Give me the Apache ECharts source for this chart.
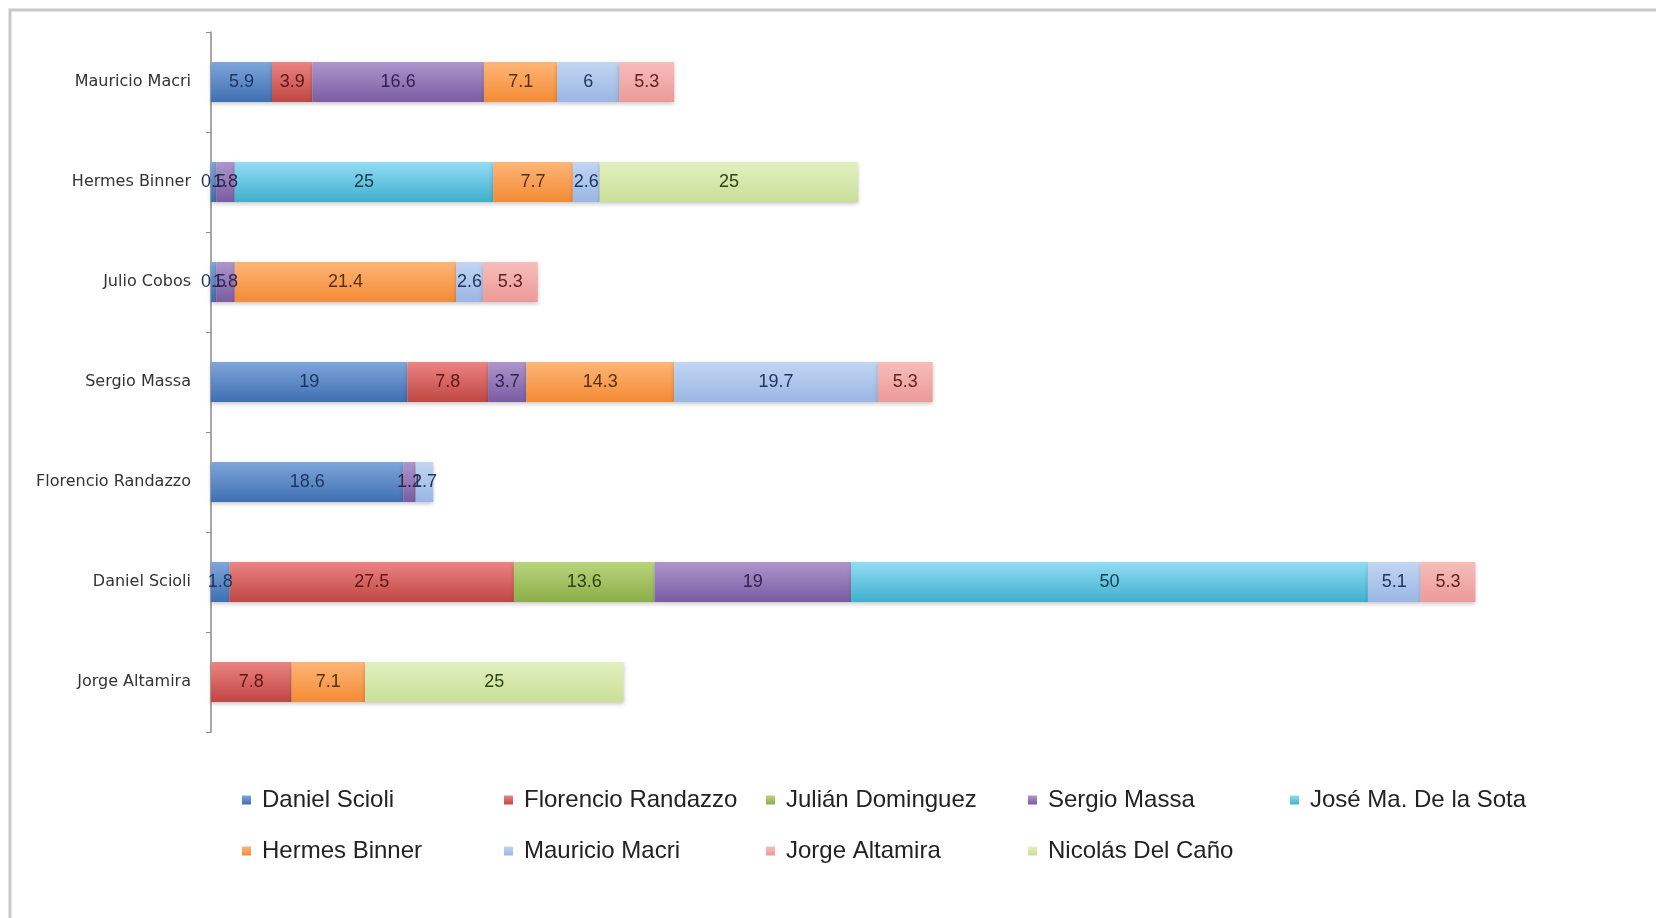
<!DOCTYPE html>
<html>
<head>
<meta charset="utf-8">
<title>Candidatos</title>
<script src="https://cdn.jsdelivr.net/npm/echarts@6/dist/echarts.min.js"></script>
<style>
    html, body { margin: 0; padding: 0; background: #fff; }
    #main { width: 1656px; height: 918px; }
</style>
</head>
<body>
<div id="main"></div>
<script>
// categorias, de arriba hacia abajo
var categories = ['Mauricio Macri', 'Hermes Binner', 'Julio Cobos', 'Sergio Massa',
    'Florencio Randazzo', 'Daniel Scioli', 'Jorge Altamira'];

var seriesNames = ['Daniel Scioli', 'Florencio Randazzo', 'Julián Dominguez', 'Sergio Massa',
    'José Ma. De la Sota', 'Hermes Binner', 'Mauricio Macri', 'Jorge Altamira', 'Nicolás Del Caño'];

var danielScioli      = [5.9, 0.5, 0.5, 19, 18.6, 1.8, null];
var florencioRandazzo = [3.9, null, null, 7.8, null, 27.5, 7.8];
var julianDominguez   = [null, null, null, null, null, 13.6, null];
var sergioMassa       = [16.6, 1.8, 1.8, 3.7, 1.2, 19, null];
var joseDeLaSota      = [null, 25, null, null, null, 50, null];
var hermesBinner      = [7.1, 7.7, 21.4, 14.3, null, null, 7.1];
var mauricioMacri     = [6, 2.6, 2.6, 19.7, 1.7, 5.1, null];
var jorgeAltamira     = [5.3, null, 5.3, 5.3, null, 5.3, null];
var nicolasDelCano    = [null, 25, null, null, null, null, 25];

var seriesData = [danielScioli, florencioRandazzo, julianDominguez, sergioMassa,
    joseDeLaSota, hermesBinner, mauricioMacri, jorgeAltamira, nicolasDelCano];

// [claro arriba, oscuro abajo, texto]
var palette = [
    ['#7ea6da', '#3f6fb2', '#1d355e'],
    ['#ec8482', '#bf4643', '#5e1614'],
    ['#b9d57c', '#8cae48', '#2c4212'],
    ['#ad96cc', '#7a5ca2', '#33224f'],
    ['#93dcf4', '#3fb0cd', '#12404f'],
    ['#fdb677', '#f48a35', '#55300c'],
    ['#c2d6f3', '#9ab6e3', '#1f3560'],
    ['#f6bdbb', '#ec9a97', '#5e2322'],
    ['#e2f0c0', '#c9df98', '#2d4510']
];

function makeSeries() {
    var list = [];
    for (var i = 0; i < seriesNames.length; i++) {
        list.push({
            name: seriesNames[i],
            type: 'bar',
            stack: 'total',
            barWidth: 40,
            data: seriesData[i],
            itemStyle: {
                color: new echarts.graphic.LinearGradient(0, 0, 0, 1, [
                    {offset: 0, color: palette[i][0]},
                    {offset: 1, color: palette[i][1]}
                ]),
                shadowColor: 'rgba(0,0,0,0.22)',
                shadowBlur: 4,
                shadowOffsetY: 2
            },
            label: {
                show: true,
                position: 'inside',
                color: palette[i][2],
                fontFamily: 'Liberation Sans, Arial, sans-serif',
                fontSize: 18
            },
            emphasis: {disabled: true}
        });
    }
    return list;
}

function legendBox(names, top) {
    return {
        data: names,
        left: 237,
        top: top,
        orient: 'horizontal',
        icon: 'rect',
        itemWidth: 9,
        itemHeight: 9,
        itemGap: 10,
        selectedMode: false,
        textStyle: {
            fontFamily: 'Liberation Sans, Arial, sans-serif',
            fontSize: 24,
            color: '#222',
            width: 232,
            lineHeight: 28,
            padding: [0, 0, 0, 6]
        }
    };
}

var chart = echarts.init(document.getElementById('main'));

var option = {
    backgroundColor: '#fff',
    animation: false,
    grid: {
        left: 211,
        right: 101,
        top: 32,
        height: 700
    },
    xAxis: {
        type: 'value',
        min: 0,
        max: 130,
        show: false
    },
    yAxis: {
        type: 'category',
        data: categories,
        inverse: true,
        axisLine: {lineStyle: {color: '#8a8a8a', width: 1.5}},
        axisTick: {show: true, length: 5, lineStyle: {color: '#8a8a8a'}},
        axisLabel: {
            margin: 20,
            color: '#333',
            fontFamily: 'DejaVu Sans, sans-serif',
            fontSize: 16,
            padding: [4, 0, 0, 0]
        }
    },
    legend: [
        legendBox(seriesNames.slice(0, 5), 781),
        legendBox(seriesNames.slice(5), 832)
    ],
    graphic: [{
        type: 'rect',
        silent: true,
        shape: {x: 10, y: 10, width: 2000, height: 2000},
        style: {fill: null, stroke: '#c9c9c9', lineWidth: 3}
    }],
    series: makeSeries()
};

chart.setOption(option);
</script>
</body>
</html>
